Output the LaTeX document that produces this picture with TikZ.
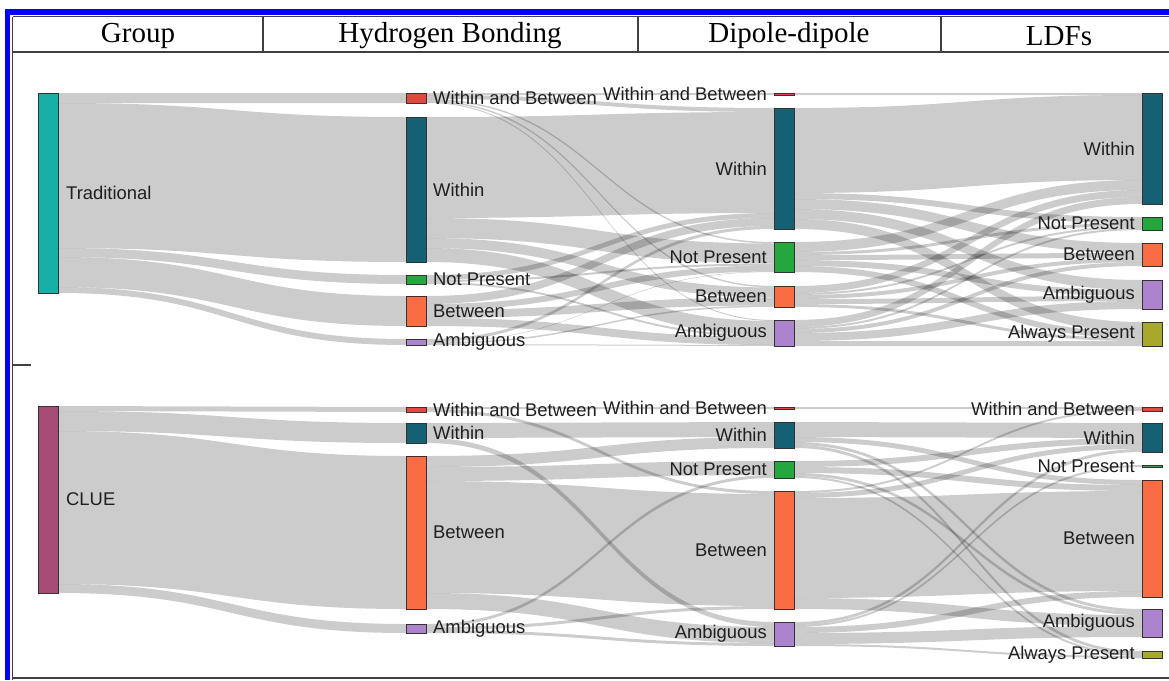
\documentclass[tikz,border=0pt]{standalone}
\usepackage{fontspec}
\setmainfont{Liberation Serif}
\setsansfont{Liberation Sans}
\usetikzlibrary{positioning}
\usetikzlibrary{calc}
\pgfdeclarelayer{back}
\pgfsetlayers{back,main}
\definecolor{tradcol}{RGB}{24,176,166}
\definecolor{cluecol}{RGB}{166,76,118}
\definecolor{wincol}{RGB}{22,96,116}
\definecolor{wabcol}{RGB}{224,74,62}
\definecolor{npcol}{RGB}{36,168,62}
\definecolor{betcol}{RGB}{250,108,68}
\definecolor{ambcol}{RGB}{172,132,206}
\definecolor{apcol}{RGB}{168,168,44}
\definecolor{framecol}{RGB}{0,0,250}
\tikzset{nodebar/.style = {draw = black!80, line width = 0.8pt, inner sep = 0, outer sep = 0,
                           minimum width = 20, anchor = north west}}
\tikzset{lab/.style = {font = \sffamily\fontsize{18.4}{20}\selectfont, text = black!88, inner sep = 0}}
\tikzset{headtext/.style = {font = \fontsize{29}{32}\selectfont, inner sep = 0}}
\tikzset{ribbon/.style = {fill = black, fill opacity = 0.2}}
\tikzset{rule/.style = {draw = black!75, line width = 1.2pt}}
% one ribbon: source, target, width; offsets pile up in order of calls
\newcommand{\ribbonflow}[3]{%
  \ifcsname out#1\endcsname\else\expandafter\xdef\csname out#1\endcsname{0}\fi
  \ifcsname in#2\endcsname\else\expandafter\xdef\csname in#2\endcsname{0}\fi
  \edef\srcoff{\csname out#1\endcsname}%
  \edef\tgtoff{\csname in#2\endcsname}%
  \fill[ribbon] ($(#1.north east)+(0,\srcoff)$)
    .. controls ($(#1.north east)+(174,\srcoff)$) and ($(#2.north west)+(-174,\tgtoff)$) ..
    ($(#2.north west)+(0,\tgtoff)$) -- ($(#2.north west)+(0,\tgtoff+#3)$)
    .. controls ($(#2.north west)+(-174,\tgtoff+#3)$) and ($(#1.north east)+(174,\srcoff+#3)$) ..
    ($(#1.north east)+(0,\srcoff+#3)$) -- cycle;
  \pgfmathsetmacro\srcnext{\srcoff+#3}\expandafter\xdef\csname out#1\endcsname{\srcnext}%
  \pgfmathsetmacro\tgtnext{\tgtoff+#3}\expandafter\xdef\csname in#2\endcsname{\tgtnext}%
}
\begin{document}
\begin{tikzpicture}[x = 1pt, y = -1pt]
  \useasboundingbox (0, 0) rectangle (1169, 680);
  % frame and header
  \fill [framecol] (5, 9) rectangle (1169, 15);
  \fill [framecol] (5, 9) rectangle (10, 680);
  \draw [rule] (12.5, 16.5) -- (1169, 16.5);
  \draw [rule] (12.5, 16.5) -- (12.5, 680);
  \draw [rule] (12.5, 52) -- (1169, 52);
  \draw [rule] (12.5, 678) -- (1169, 678);
  \draw [rule] (12.5, 365) -- (31, 365);
  \foreach \xx in {263, 638, 941}
    \draw [rule] (\xx, 16.5) -- (\xx, 52);
  \node [headtext] (hgroup) at (138, 36) {Group};
  \node [headtext] (hhb) at (450, 36) {Hydrogen Bonding};
  \node [headtext] (hdd) at (789, 36) {Dipole-dipole};
  \node [headtext] (hldf) at (1059, 36) {LDFs};

  % group column
  \node [nodebar, fill = tradcol, minimum height = 200] (trad) at (38, 93) {};
  \node [nodebar, fill = cluecol, minimum height = 187] (clue) at (38, 406) {};
  \node [lab, right = 8pt of trad] (tradlab) {Traditional};
  \node [lab, right = 8pt of clue] (cluelab) {CLUE};

  % hydrogen bonding column
  \node [nodebar, fill = wabcol, minimum height = 10] (hwb) at (406, 93) {};
  \node [nodebar, fill = wincol, minimum height = 145] (hw) at (406, 117) {};
  \node [nodebar, fill = npcol, minimum height = 9] (hnp) at (406, 275) {};
  \node [nodebar, fill = betcol, minimum height = 30] (hb) at (406, 296) {};
  \node [nodebar, fill = ambcol, minimum height = 6] (ha) at (406, 339) {};
  \node [nodebar, fill = wabcol, minimum height = 5] (hwbb) at (406, 407) {};
  \node [nodebar, fill = wincol, minimum height = 20] (hwc) at (406, 423) {};
  \node [nodebar, fill = betcol, minimum height = 153] (hbc) at (406, 456) {};
  \node [nodebar, fill = ambcol, minimum height = 9] (hac) at (406, 624) {};
  \node [lab, right = 7pt of hwb] (hwblab) {Within and Between};
  \node [lab, right = 7pt of hw] (hwlab) {Within};
  \node [lab, right = 7pt of hnp] (hnplab) {Not Present};
  \node [lab, right = 7pt of hb] (hblab) {Between};
  \node [lab, right = 7pt of ha] (halab) {Ambiguous};
  \node [lab, right = 7pt of hwbb] (hwbblab) {Within and Between};
  \node [lab, right = 7pt of hwc] (hwclab) {Within};
  \node [lab, right = 7pt of hbc] (hbclab) {Between};
  \node [lab, right = 7pt of hac] (haclab) {Ambiguous};

  % dipole-dipole column
  \node [nodebar, fill = wabcol, minimum height = 2] (dwb) at (774, 93) {};
  \node [nodebar, fill = wincol, minimum height = 121] (dw) at (774, 108) {};
  \node [nodebar, fill = npcol, minimum height = 30] (dnp) at (774, 242) {};
  \node [nodebar, fill = betcol, minimum height = 21] (db) at (774, 286) {};
  \node [nodebar, fill = ambcol, minimum height = 26] (da) at (774, 320) {};
  \node [nodebar, fill = wabcol, minimum height = 2] (dwbb) at (774, 407) {};
  \node [nodebar, fill = wincol, minimum height = 26] (dwc) at (774, 422) {};
  \node [nodebar, fill = npcol, minimum height = 17] (dnpc) at (774, 461) {};
  \node [nodebar, fill = betcol, minimum height = 118] (dbc) at (774, 491) {};
  \node [nodebar, fill = ambcol, minimum height = 24] (dac) at (774, 622) {};
  \node [lab, left = 7pt of dwb] (dwblab) {Within and Between};
  \node [lab, left = 7pt of dw] (dwlab) {Within};
  \node [lab, left = 7pt of dnp] (dnplab) {Not Present};
  \node [lab, left = 7pt of db] (dblab) {Between};
  \node [lab, left = 7pt of da] (dalab) {Ambiguous};
  \node [lab, left = 7pt of dwbb] (dwbblab) {Within and Between};
  \node [lab, left = 7pt of dwc] (dwclab) {Within};
  \node [lab, left = 7pt of dnpc] (dnpclab) {Not Present};
  \node [lab, left = 7pt of dbc] (dbclab) {Between};
  \node [lab, left = 7pt of dac] (daclab) {Ambiguous};

  % LDF column
  \node [nodebar, fill = wincol, minimum height = 111] (lw) at (1142, 93) {};
  \node [nodebar, fill = npcol, minimum height = 13] (lnp) at (1142, 217) {};
  \node [nodebar, fill = betcol, minimum height = 23] (lb) at (1142, 243) {};
  \node [nodebar, fill = ambcol, minimum height = 29] (la) at (1142, 280) {};
  \node [nodebar, fill = apcol, minimum height = 24] (lap) at (1142, 322) {};
  \node [nodebar, fill = wabcol, minimum height = 4] (lwbb) at (1142, 407) {};
  \node [nodebar, fill = wincol, minimum height = 29] (lwc) at (1142, 423) {};
  \node [nodebar, fill = npcol, minimum height = 2] (lnpc) at (1142, 465) {};
  \node [nodebar, fill = betcol, minimum height = 117] (lbc) at (1142, 480) {};
  \node [nodebar, fill = ambcol, minimum height = 28] (lac) at (1142, 609) {};
  \node [nodebar, fill = apcol, minimum height = 7] (lapc) at (1142, 651) {};
  \node [lab, left = 7pt of lw] (lwlab) {Within};
  \node [lab, left = 7pt of lnp] (lnplab) {Not Present};
  \node [lab, left = 7pt of lb] (lblab) {Between};
  \node [lab, left = 7pt of la] (lalab) {Ambiguous};
  \node [lab, left = 7pt of lap] (laplab) {Always Present};
  \node [lab, left = 7pt of lwbb] (lwbblab) {Within and Between};
  \node [lab, left = 7pt of lwc] (lwclab) {Within};
  \node [lab, left = 7pt of lnpc] (lnpclab) {Not Present};
  \node [lab, left = 7pt of lbc] (lbclab) {Between};
  \node [lab, left = 7pt of lac] (laclab) {Ambiguous};
  \node [lab, left = 7pt of lapc] (lapclab) {Always Present};

  \begin{pgfonlayer}{back}
    \fill [white] (0, 0) rectangle (1169, 680);
    % group -> hydrogen bonding
    \ribbonflow{trad}{hwb}{10}  \ribbonflow{trad}{hw}{145} \ribbonflow{trad}{hnp}{9}
    \ribbonflow{trad}{hb}{30}   \ribbonflow{trad}{ha}{6}
    \ribbonflow{clue}{hwbb}{5}  \ribbonflow{clue}{hwc}{20} \ribbonflow{clue}{hbc}{153}
    \ribbonflow{clue}{hac}{9}
    % hydrogen bonding -> dipole-dipole
    \ribbonflow{hwb}{dwb}{2}    \ribbonflow{hwb}{dw}{4}    \ribbonflow{hwb}{dnp}{1.5}
    \ribbonflow{hwb}{db}{1.5}   \ribbonflow{hwb}{da}{1}
    \ribbonflow{hw}{dw}{101}    \ribbonflow{hw}{dnp}{20}   \ribbonflow{hw}{db}{10}
    \ribbonflow{hw}{da}{14}
    \ribbonflow{hnp}{dw}{5}     \ribbonflow{hnp}{dnp}{2}   \ribbonflow{hnp}{da}{2}
    \ribbonflow{hb}{dw}{8}      \ribbonflow{hb}{dnp}{6}    \ribbonflow{hb}{db}{8}
    \ribbonflow{hb}{da}{8}
    \ribbonflow{ha}{dw}{3}      \ribbonflow{ha}{dnp}{0.5}  \ribbonflow{ha}{db}{1.5}
    \ribbonflow{ha}{da}{1}
    \ribbonflow{hwbb}{dwbb}{2}  \ribbonflow{hwbb}{dbc}{3}
    \ribbonflow{hwc}{dwc}{15}   \ribbonflow{hwc}{dac}{5}
    \ribbonflow{hbc}{dwc}{11}   \ribbonflow{hbc}{dnpc}{14} \ribbonflow{hbc}{dbc}{112}
    \ribbonflow{hbc}{dac}{16}
    \ribbonflow{hac}{dnpc}{3}   \ribbonflow{hac}{dbc}{3}   \ribbonflow{hac}{dac}{3}
    % dipole-dipole -> LDFs
    \ribbonflow{dwb}{lw}{2}
    \ribbonflow{dw}{lw}{85}     \ribbonflow{dw}{lnp}{6}    \ribbonflow{dw}{lb}{10}
    \ribbonflow{dw}{la}{10}     \ribbonflow{dw}{lap}{10}
    \ribbonflow{dnp}{lw}{10}    \ribbonflow{dnp}{lnp}{3}   \ribbonflow{dnp}{lb}{5}
    \ribbonflow{dnp}{la}{6}     \ribbonflow{dnp}{lap}{6}
    \ribbonflow{db}{lw}{7}      \ribbonflow{db}{lnp}{2}    \ribbonflow{db}{lb}{4}
    \ribbonflow{db}{la}{5}      \ribbonflow{db}{lap}{3}
    \ribbonflow{da}{lw}{7}      \ribbonflow{da}{lnp}{2}    \ribbonflow{da}{lb}{4}
    \ribbonflow{da}{la}{8}      \ribbonflow{da}{lap}{5}
    \ribbonflow{dwbb}{lwbb}{2}
    \ribbonflow{dwc}{lwc}{15}   \ribbonflow{dwc}{lbc}{5}   \ribbonflow{dwc}{lac}{3}
    \ribbonflow{dwc}{lapc}{3}
    \ribbonflow{dnpc}{lwc}{6}   \ribbonflow{dnpc}{lbc}{6}  \ribbonflow{dnpc}{lac}{3}
    \ribbonflow{dnpc}{lapc}{2}
    \ribbonflow{dbc}{lwbb}{2}   \ribbonflow{dbc}{lwc}{5}   \ribbonflow{dbc}{lbc}{100}
    \ribbonflow{dbc}{lac}{11}
    \ribbonflow{dac}{lwc}{3}    \ribbonflow{dac}{lnpc}{2}  \ribbonflow{dac}{lbc}{6}
    \ribbonflow{dac}{lac}{11}   \ribbonflow{dac}{lapc}{2}
  \end{pgfonlayer}
\end{tikzpicture}
\end{document}
